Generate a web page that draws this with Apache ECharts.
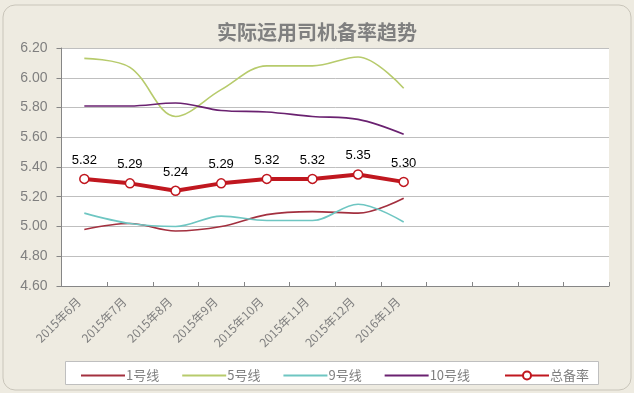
<!DOCTYPE html>
<html>
<head>
<meta charset="utf-8">
<script src="https://cdn.jsdelivr.net/npm/echarts@6/dist/echarts.min.js"></script>
<style>
html,body{margin:0;padding:0;background:#EEEBE1;}
#c{width:634px;height:393px;}
</style>
</head>
<body>
<div id="c"></div>
<script>
var categories = ['2015年6月','2015年7月','2015年8月','2015年9月','2015年10月','2015年11月','2015年12月','2016年1月','','','',''];
var line1 = [4.98, 5.02, 4.97, 5.00, 5.08, 5.10, 5.09, 5.19];
var line5 = [6.13, 6.07, 5.74, 5.92, 6.08, 6.08, 6.14, 5.93];
var line9 = [5.09, 5.02, 5.00, 5.07, 5.04, 5.04, 5.15, 5.03];
var line10 = [5.81, 5.81, 5.83, 5.78, 5.77, 5.74, 5.72, 5.62];
var total = [5.32, 5.29, 5.24, 5.29, 5.32, 5.32, 5.35, 5.30];
var thinNames = ['1号线','5号线','9号线','10号线'];
var totalName = '总备率';
var yTicks = {min: 4.6, max: 6.2, interval: 0.2};

var chart = echarts.init(document.getElementById('c'));
function thin(name, data, color){
  return {name: name, type: 'line', data: data, smooth: 0.35, symbol: 'none',
    lineStyle: {color: color, width: 1.6}, itemStyle: {color: color}, z: 2};
}
var legendText = {fontFamily: 'Noto Sans CJK SC', fontSize: 13, color: '#7F7F7F', padding: [0,0,0,-4]};
chart.setOption({
  backgroundColor: '#EEEBE1',
  animation: false,
  graphic: [
    {type: 'rect', shape: {x: 3, y: 5, width: 628, height: 385, r: 12}, style: {fill: 'none', stroke: '#C9C5BA', lineWidth: 1}, z: -10},
    {type: 'rect', shape: {x: 65.5, y: 361.5, width: 533, height: 23}, style: {fill: '#ffffff', stroke: '#BFBFBF', lineWidth: 1}, z: -5}
  ],
  title: {
    text: '实际运用司机备率趋势', left: 'center', top: 17,
    textStyle: {fontFamily: 'Noto Sans CJK SC', fontWeight: 'bold', fontSize: 20, color: '#808080'}
  },
  legend: [
    {data: thinNames, left: 76, top: 364, itemGap: 23, itemWidth: 44, itemHeight: 2, icon: 'rect',
      textStyle: legendText},
    {data: [totalName], left: 499, top: 364, itemWidth: 44, itemHeight: 10, textStyle: legendText}
  ],
  grid: {left: 61.5, right: 25, top: 48, bottom: 107, show: true, backgroundColor: '#ffffff', borderWidth: 0},
  xAxis: {
    type: 'category', data: categories, boundaryGap: true,
    axisLine: {lineStyle: {color: '#868686', width: 1}},
    axisTick: {show: true, inside: true, length: 4, lineStyle: {color: '#868686'}},
    axisLabel: {rotate: 45, interval: 0, margin: 8, padding: [0, 8, 0, 0], fontFamily: 'Noto Sans CJK SC', fontSize: 12, color: '#7F7F7F'},
    splitLine: {show: false}
  },
  yAxis: {
    type: 'value', min: yTicks.min, max: yTicks.max, interval: yTicks.interval,
    axisLine: {show: true, lineStyle: {color: '#868686', width: 1}},
    axisTick: {show: true, inside: false, length: 5, lineStyle: {color: '#868686'}},
    axisLabel: {margin: 14, fontFamily: 'Liberation Sans', fontSize: 14, color: '#7F7F7F',
      formatter: function(v){ return v.toFixed(2); }},
    splitLine: {lineStyle: {color: '#BFBFBF', width: 1}}
  },
  series: [
    thin('1号线', line1, '#A3303F'),
    thin('5号线', line5, '#B7CB6C'),
    thin('9号线', line9, '#6EC6C2'),
    thin('10号线', line10, '#6A2170'),
    {name: totalName, type: 'line', data: total, smooth: false, symbol: 'circle', symbolSize: 9,
      lineStyle: {color: '#C0171F', width: 4},
      itemStyle: {color: '#ffffff', borderColor: '#C0171F', borderWidth: 1.5},
      label: {show: true, position: 'top', distance: 7, fontFamily: 'Liberation Sans', fontSize: 13, color: '#000000',
        formatter: function(p){ return p.value.toFixed(2); }},
      z: 5}
  ]
});
</script>
</body>
</html>
